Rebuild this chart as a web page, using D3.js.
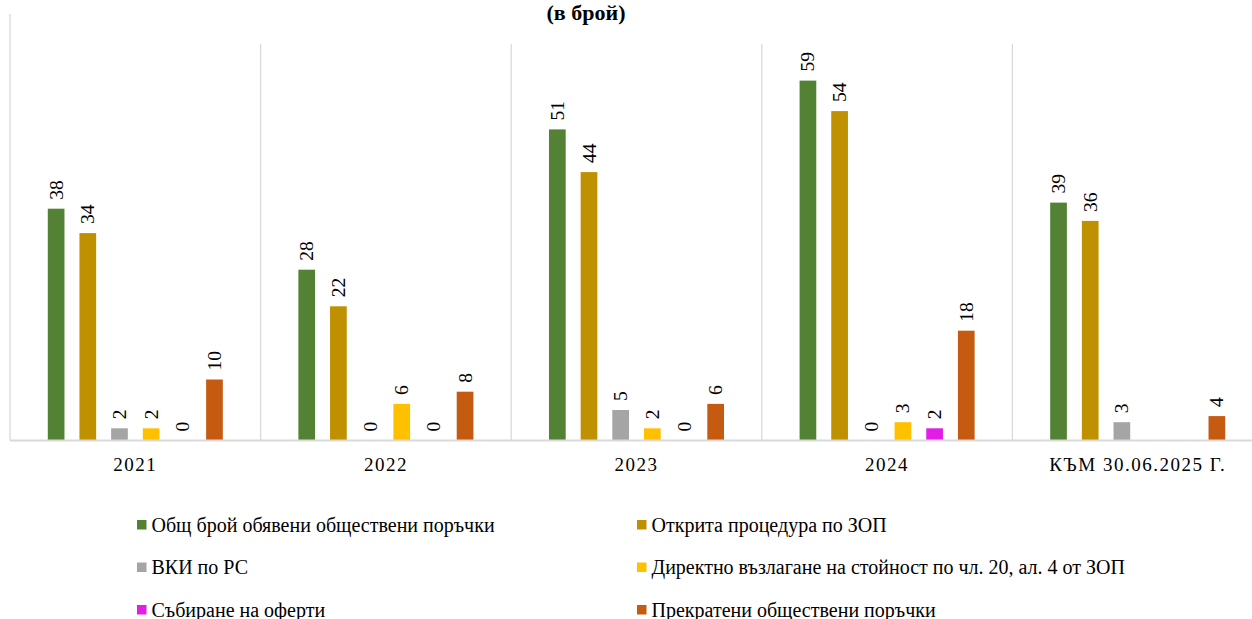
<!DOCTYPE html>
<html>
<head>
<meta charset="utf-8">
<script src="https://cdn.jsdelivr.net/npm/d3@7"></script>
<style>
  body { margin: 0; background: #fff; }
</style>
</head>
<body>
<div id="chart"></div>
<script>
const categories = ["2021", "2022", "2023", "2024", "КЪМ 30.06.2025 Г."];
const seriesNames = [
  "Общ брой обявени обществени поръчки",
  "Открита процедура по ЗОП",
  "ВКИ по РС",
  "Директно възлагане на стойност по чл. 20, ал. 4 от ЗОП",
  "Събиране на оферти",
  "Прекратени обществени поръчки"
];
const total = [38, 28, 51, 59, 39];
const openProc = [34, 22, 44, 54, 36];
const vki = [2, 0, 5, 0, 3];
const direct = [2, 6, 2, 3, null];
const offers = [0, 0, 0, 2, null];
const cancelled = [10, 8, 6, 18, 4];
const seriesValues = [total, openProc, vki, direct, offers, cancelled];
const colors = ["#548235", "#bf9000", "#a5a5a5", "#ffc000", "#e01ee6", "#c55a11"];

const width = 1252, height = 619;
const plot = { left: 10, right: 1263, top: 44, bottom: 440.5 };
const serif = "'Liberation Serif', 'DejaVu Serif', serif";

const svg = d3.select("#chart").append("svg")
  .attr("width", width).attr("height", height)
  .attr("font-family", serif)
  .style("font-family", serif);

const x0 = d3.scaleBand().domain(categories).range([plot.left, plot.right]);
const groupW = 190;
const x1 = d3.scaleBand().domain(d3.range(6)).range([0, groupW]);
const barW = 16.7;
const y = d3.scaleLinear().domain([0, 65]).range([plot.bottom, plot.top]);

// category separators
const seps = categories.map(c => x0(c));
svg.append("g").selectAll("line").data(seps).enter().append("line")
  .attr("x1", d => d).attr("x2", d => d)
  .attr("y1", (d, i) => i === 0 ? 14 : plot.top)
  .attr("y2", plot.bottom)
  .attr("stroke", "#d9d9d9").attr("stroke-width", 1.3);

// title
svg.append("text")
  .attr("x", 586).attr("y", 20)
  .attr("text-anchor", "middle")
  .style("font-size", "22px").style("font-weight", "bold")
  .text("(в брой)");

// bars
const groups = svg.append("g").selectAll("g").data(categories).enter().append("g")
  .attr("transform", d => `translate(${x0(d) + (x0.bandwidth() - groupW) / 2},0)`);

groups.each(function (cat, ci) {
  const g = d3.select(this);
  const items = seriesValues.map((vals, si) => ({ si, v: vals[ci] }));
  g.selectAll("rect").data(items.filter(d => d.v !== null && d.v > 0)).enter().append("rect")
    .attr("x", d => x1(d.si) + (x1.bandwidth() - barW) / 2)
    .attr("y", d => y(d.v))
    .attr("width", barW)
    .attr("height", d => y(0) - y(d.v))
    .attr("fill", d => colors[d.si]);

  g.selectAll("text").data(items.filter(d => d.v !== null)).enter().append("text")
    .attr("transform", d => {
      const cx = x1(d.si) + x1.bandwidth() / 2 + 6.5;
      return `translate(${cx},${y(d.v) - 9}) rotate(-90)`;
    })
    .attr("text-anchor", "start")
    .style("font-size", "19.5px")
    .style("fill", "#000")
    .text(d => d.v);
});

// baseline
svg.append("line")
  .attr("x1", plot.left).attr("x2", plot.right)
  .attr("y1", plot.bottom).attr("y2", plot.bottom)
  .attr("stroke", "#d9d9d9").attr("stroke-width", 2);

// category labels
svg.append("g").selectAll("text").data(categories).enter().append("text")
  .attr("x", d => x0(d) + x0.bandwidth() / 2)
  .attr("y", 471)
  .attr("text-anchor", "middle")
  .style("font-size", "19px")
  .style("letter-spacing", "1.5px")
  .text(d => d);

// legend
const legend = svg.append("g").selectAll("g").data(seriesNames).enter().append("g")
  .attr("transform", (d, i) => `translate(${i % 2 === 0 ? 137 : 637},${520 + Math.floor(i / 2) * 42.5})`);
legend.append("rect")
  .attr("width", 9.5).attr("height", 9.5)
  .attr("fill", (d, i) => colors[i]);
legend.append("text")
  .attr("x", 14.5).attr("y", 11.5)
  .style("font-size", "20px")
  .text(d => d);
</script>
</body>
</html>
